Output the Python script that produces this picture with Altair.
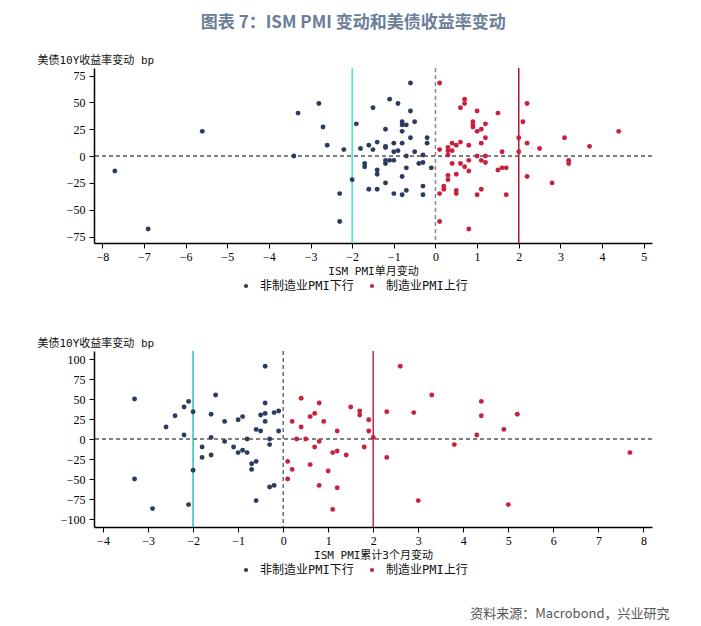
import altair as alt
import pandas as pd

LAB_DOWN = "非制造业PMI下行"
LAB_UP = "制造业PMI上行"
Y_TITLE = "美债10Y收益率变动 bp"
TOP_X_TITLE = "ISM PMI单月变动"
BOT_X_TITLE = "ISM PMI累计3个月变动"
MAIN_TITLE = "图表 7：ISM PMI 变动和美债收益率变动"
SOURCE = "资料来源：Macrobond，兴业研究"

# ---- top panel: single-month change ----
top_down_x = [-7.7, -6.9, -5.6, -3.4, -3.3, -2.8, -2.7, -2.6, -2.3, -2.3, -2.2, -2.0, -1.9, -1.8,
              -1.7, -1.7, -1.6, -1.6, -1.5, -1.5, -1.4, -1.4, -1.4, -1.4, -1.2, -1.2, -1.2, -1.2,
              -1.2, -1.2, -1.1, -1.1, -1.0, -1.0, -1.0, -1.0, -0.9, -0.9, -0.8, -0.8, -0.8, -0.8,
              -0.8, -0.8, -0.7, -0.7, -0.7, -0.7, -0.6, -0.6, -0.6, -0.5, -0.5, -0.4, -0.3, -0.3,
              -0.3, -0.3, -0.2, -0.2, -0.1]
top_down_y = [-14, -68, 23, 0, 40, 49, 27, 10, -35, -61, 6, -22, 30, 7,
              -7, -10, 10, -31, 6, 45, 13, -13, -17, -31, 25, 9, 8, -4,
              -7, -25, 53, -4, -4, 12, 4, -35, 49, 5, 32, 29, 23, 12,
              -19, -36, 29, 0, -11, -32, 68, 42, 17, 32, 4, -7, -6, 1,
              -28, -36, 17, 12, -11]
top_up_x = [0.1, 0.1, 0.1, 0.1, 0.2, 0.2, 0.3, 0.3, 0.3, 0.3, 0.3, 0.4, 0.4, 0.4, 0.5, 0.5,
            0.5, 0.5, 0.6, 0.6, 0.6, 0.7, 0.7, 0.7, 0.8, 0.8, 0.8, 0.8, 0.9, 0.9, 0.9, 1.0,
            1.0, 1.0, 1.0, 1.1, 1.1, 1.1, 1.1, 1.2, 1.2, 1.2, 1.2, 1.5, 1.5, 1.6, 1.6, 1.7,
            1.7, 2.0, 2.0, 2.1, 2.2, 2.2, 2.2, 2.5, 2.8, 3.1, 3.2, 3.2, 3.7, 4.4]
top_up_y = [68, 6, -35, -61, -28, -31, 8, 5, 1, -18, -22, 12, 5, -7, 10, -17,
            -32, -35, 45, 13, -7, 53, 49, -10, 10, -4, -14, -68, 32, 29, 27, 42,
            23, 0, -36, 25, 12, -4, -31, 30, 17, 0, -6, 40, -13, 4, -11, -11,
            -36, 17, 4, 32, 49, 12, -19, 7, -25, 17, -4, -7, 9, 23]

# ---- bottom panel: cumulative 3-month change ----
bot_down_x = [-3.3, -3.3, -2.9, -2.6, -2.4, -2.2, -2.2, -2.1, -2.1, -2.0, -2.0, -1.8, -1.8, -1.6,
              -1.6, -1.6, -1.5, -1.3, -1.3, -1.1, -1.0, -1.0, -0.9, -0.9, -0.8, -0.8, -0.7, -0.7,
              -0.6, -0.6, -0.6, -0.5, -0.5, -0.4, -0.4, -0.4, -0.4, -0.3, -0.3, -0.3, -0.2, -0.2,
              -0.1, -0.1]
bot_down_y = [50, -50, -87, 15, 29, 40, 5, 47, -82, 34, -39, -10, -23, 31,
              2, -20, 55, 22, -3, -10, 24, -17, 28, -14, 0, -17, -31, -38,
              12, -28, -77, 30, 10, 91, 45, 32, 22, 0, -7, -60, 33, -58,
              35, 10]
bot_up_x = [0.1, 0.1, 0.2, 0.2, 0.3, 0.4, 0.4, 0.5, 0.6, 0.6, 0.7, 0.7, 0.8, 0.8, 0.8, 0.9,
            1.0, 1.1, 1.1, 1.2, 1.2, 1.2, 1.4, 1.5, 1.7, 1.7, 1.8, 1.9, 1.9, 2.0, 2.3, 2.3,
            2.6, 2.9, 3.0, 3.3, 3.8, 4.3, 4.4, 4.4, 4.9, 5.0, 5.2, 7.7]
bot_up_y = [-28, -50, 22, -38, 0, 51, 15, 0, 28, -32, 32, -10, 45, -3, -58, 22,
            -40, -17, -88, 10, -15, -61, -20, 40, 35, 30, -10, 24, 10, 2, 34, -23,
            91, 33, -77, 55, -7, 5, 47, 29, 12, -82, 31, -17]

top_x_ticks = [-8, -7, -6, -5, -4, -3, -2, -1, 0, 1, 2, 3, 4, 5]
top_y_ticks = [-75, -50, -25, 0, 25, 50, 75]
bot_x_ticks = [-4, -3, -2, -1, 0, 1, 2, 3, 4, 5, 6, 7, 8]
bot_y_ticks = [-100, -75, -50, -25, 0, 25, 50, 75, 100]

NAVY = "#2c3b5e"
RED = "#c8213f"
MONO = "DejaVu Sans Mono, Noto Sans CJK SC"
SERIF = "Liberation Serif"


def panel(dx, dy, ux, uy, xdom, ydom, xticks, yticks, xtitle, lcol, rcol, zcol, zwidth, h):
    df = pd.DataFrame({
        "x": dx + ux,
        "y": dy + uy,
        "g": [LAB_DOWN] * len(dx) + [LAB_UP] * len(ux),
    })
    xs = alt.Scale(domain=xdom, nice=False, zero=False)
    ys = alt.Scale(domain=ydom, nice=False, zero=False)
    base = alt.Chart(pd.DataFrame({"k": [0]}))
    hz = base.mark_rule(color="black", strokeDash=[4, 3], strokeWidth=1).encode(
        y=alt.datum(0, scale=ys))
    vz = base.mark_rule(color=zcol, strokeDash=[4, 3], strokeWidth=zwidth).encode(
        x=alt.datum(0, scale=xs))
    vl = base.mark_rule(color=lcol, strokeWidth=1.5).encode(x=alt.datum(-2, scale=xs))
    vr = base.mark_rule(color=rcol, strokeWidth=1.5).encode(x=alt.datum(2, scale=xs))
    pts = alt.Chart(df).mark_circle(size=24, opacity=1).encode(
        x=alt.X("x:Q", scale=xs,
                axis=alt.Axis(values=xticks, title=xtitle, titlePadding=3,
                              labelOverlap=False)),
        y=alt.Y("y:Q", scale=ys,
                axis=alt.Axis(values=yticks, title=Y_TITLE, titleAngle=0,
                              titleX=-57, titleY=-3, titleAlign="left",
                              titleBaseline="bottom", labelOverlap=False,
                              tickCount=len(yticks))),
        color=alt.Color("g:N",
                        scale=alt.Scale(domain=[LAB_DOWN, LAB_UP], range=[NAVY, RED]),
                        legend=alt.Legend(orient="none", legendX=146, legendY=h + 37,
                                          direction="horizontal", title=None,
                                          symbolSize=18, symbolStrokeWidth=0,
                                          labelFont=MONO, labelFontSize=12,
                                          labelColor="#111", labelOffset=8,
                                          columnPadding=12)),
    )
    return alt.layer(hz, vz, vl, vr, pts).properties(width=558, height=h)


top = panel(top_down_x, top_down_y, top_up_x, top_up_y, [-8.2, 5.2], [-81, 82],
            top_x_ticks, top_y_ticks, TOP_X_TITLE, "#45e0d6", "#b8142c", "#8a8a8a", 1.5, 175)
bottom = panel(bot_down_x, bot_down_y, bot_up_x, bot_up_y, [-4.2, 8.19], [-110, 110],
               bot_x_ticks, bot_y_ticks, BOT_X_TITLE, "#33b9c9", "#c4283f", "#222222", 1, 176
               ).properties(title=alt.TitleParams(SOURCE, orient="bottom", anchor="end",
                                                  fontSize=13, color="#555555",
                                                  font="Noto Sans CJK SC", fontWeight="normal",
                                                  offset=32, dx=17))

chart = alt.vconcat(top, bottom, spacing=45).resolve_scale(
    x="independent", y="independent", color="independent"
).resolve_legend(color="independent").properties(
    title=alt.TitleParams(MAIN_TITLE, anchor="middle", fontSize=17, fontWeight="bold",
                          color="#6b7e99", font="Noto Sans CJK SC", offset=22),
    padding={"left": 29, "top": 6, "right": 5, "bottom": 5},
).configure_view(stroke=None).configure_axis(
    grid=False, domainColor="black", domainWidth=1.5, tickColor="black", tickSize=5,
    labelFont=SERIF, labelFontSize=12, labelColor="black", labelPadding=3,
    labelOverlap=False,
    titleFont=MONO, titleFontSize=11, titleFontWeight="normal", titleColor="#111",
).configure_axisY(labelPadding=4)

chart.save("out.html", embed_options={"renderer": "svg", "actions": False})
